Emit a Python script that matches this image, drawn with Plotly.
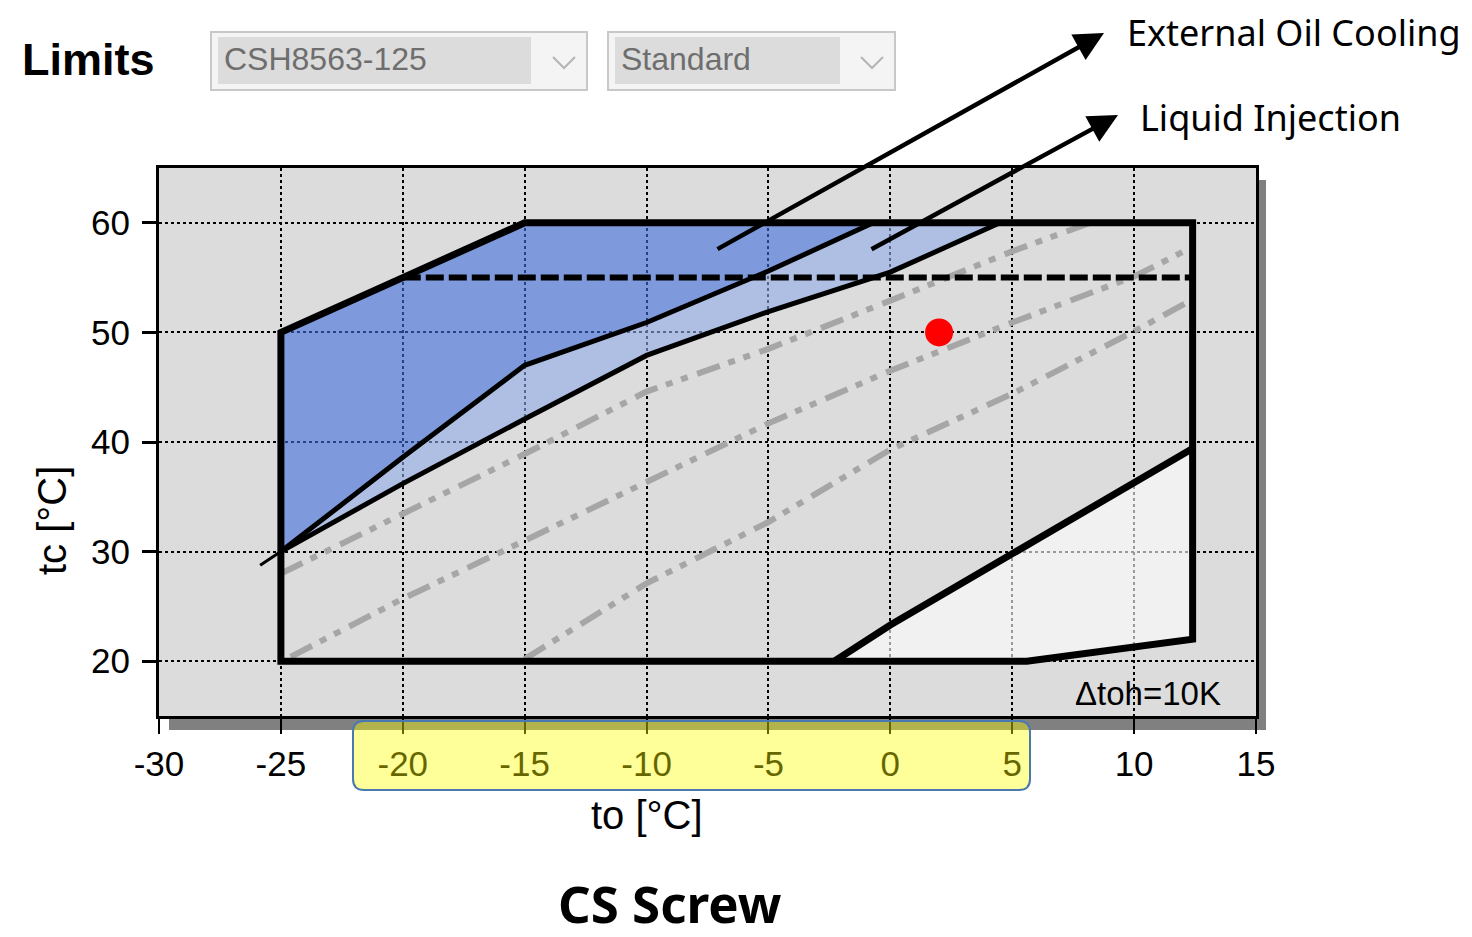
import plotly.graph_objects as go

# ---------------- data ----------------
to_tick_vals = [-30, -25, -20, -15, -10, -5, 0, 5, 10, 15]
to_tick_text = ["-30", "-25", "-20", "-15", "-10", "-5", "0", "5", "10", "15"]
tc_tick_vals = [20, 30, 40, 50, 60]
tc_tick_text = ["20", "30", "40", "50", "60"]

# outer application envelope (closed)
env_to = [-25, -25, -20, -15, 12.4, 12.4, 5.6, -25, -25]
env_tc = [20, 50, 55, 60, 60, 22.0, 20, 20, 50]

# upper edge of envelope used by the oil cooling area
oil_upper_to = [-25, -25, -20, -15, -0.7]
oil_upper_tc = [30, 50, 55, 60, 60]
# lower edge of external oil cooling area
oil_lower_to = [-25, -20, -15, -10, -5, -0.7]
oil_lower_tc = [30, 38.6, 47.0, 50.9, 55.6, 60]
# lower edge of liquid injection area
inj_lower_to = [-25, -20, -15, -10, -5, 0, 4.5]
inj_lower_tc = [30, 36.2, 42.1, 47.9, 51.9, 55.5, 60]
# short stub below the lower-left corner
stub_to = [-25.85, -25.0]
stub_tc = [28.75, 30.0]

# lower-right restricted area
low_edge_to = [-2.3, 0, 5, 10, 12.4]
low_edge_tc = [20, 23.3, 29.8, 36.3, 39.4]
low_close_to = [12.4, 5.6, -2.3]
low_close_tc = [22.0, 20, 20]

# limit line (dashed)
lim_to = [-20, 12.4]
lim_tc = [55, 55]

# grey iso lines
isoA_to = [-25, -20, -15, -10, -5, 0, 5, 8.2]
isoA_tc = [28.0, 33.4, 38.9, 44.6, 48.5, 52.9, 57.4, 60]
isoB_to = [-24.6, -20, -15, -10, -5, 0, 5, 10, 12.4]
isoB_tc = [20.4, 25.7, 31.0, 36.3, 41.7, 46.5, 50.9, 55.1, 57.8]
isoC_to = [-15, -10, -5, 0, 5, 10, 12.4]
isoC_tc = [20.2, 27.1, 32.7, 39.3, 44.4, 50.1, 53.0]

# operating point
op_to = [2]
op_tc = [50]

# ---------------- layout geometry ----------------
W, H = 1472, 937
PL, PT, PR, PB = 159, 168, 1256, 716
PW, PH = PR - PL, PB - PT


def px(x):
    return (x - PL) / PW


def py(y):
    return (PB - y) / PH


fig = go.Figure()

# fills
fig.add_trace(go.Scatter(
    x=low_edge_to + low_close_to, y=low_edge_tc + low_close_tc,
    fill="toself", fillcolor="rgba(255,255,255,0.6)",
    mode="lines", line=dict(width=0), hoverinfo="skip"))
fig.add_trace(go.Scatter(
    x=oil_upper_to + oil_lower_to[::-1], y=oil_upper_tc + oil_lower_tc[::-1],
    fill="toself", fillcolor="rgba(65,108,222,0.6)",
    mode="lines", line=dict(width=0), hoverinfo="skip"))
fig.add_trace(go.Scatter(
    x=oil_lower_to + inj_lower_to[::-1], y=oil_lower_tc + inj_lower_tc[::-1],
    fill="toself", fillcolor="rgba(143,172,232,0.6)",
    mode="lines", line=dict(width=0), hoverinfo="skip"))

# grey iso lines
for xs, ys in [(isoA_to, isoA_tc), (isoB_to, isoB_tc), (isoC_to, isoC_tc)]:
    fig.add_trace(go.Scatter(
        x=xs, y=ys, mode="lines",
        line=dict(color="#A6A6A6", width=6, dash="24px,9px,7px,9px,7px,10px"),
        hoverinfo="skip"))

# boundaries
fig.add_trace(go.Scatter(x=oil_lower_to, y=oil_lower_tc, mode="lines",
                         line=dict(color="black", width=5), hoverinfo="skip"))
fig.add_trace(go.Scatter(x=inj_lower_to, y=inj_lower_tc, mode="lines",
                         line=dict(color="black", width=5), hoverinfo="skip"))
fig.add_trace(go.Scatter(x=stub_to, y=stub_tc, mode="lines",
                         line=dict(color="black", width=3), hoverinfo="skip"))
fig.add_trace(go.Scatter(x=low_edge_to, y=low_edge_tc, mode="lines",
                         line=dict(color="black", width=7), hoverinfo="skip"))
fig.add_trace(go.Scatter(x=lim_to, y=lim_tc, mode="lines",
                         line=dict(color="black", width=6, dash="18px,5px"),
                         hoverinfo="skip"))
fig.add_trace(go.Scatter(x=env_to, y=env_tc, mode="lines",
                         line=dict(color="black", width=7), hoverinfo="skip"))
fig.add_trace(go.Scatter(x=op_to, y=op_tc, mode="markers",
                         marker=dict(color="#FF0000", size=28), hoverinfo="skip"))

tick_font = dict(family="Liberation Sans, Arial", size=35, color="black")

fig.update_xaxes(range=[-30, 15], tickvals=to_tick_vals, ticktext=to_tick_text,
                 ticks="outside", ticklen=15, tickwidth=2, tickcolor="black",
                 showgrid=True, gridcolor="black", gridwidth=2, griddash="dot",
                 showline=True, linewidth=3, linecolor="black", mirror=True,
                 zeroline=False, tickfont=tick_font, fixedrange=True)
fig.update_yaxes(range=[15, 65], tickvals=tc_tick_vals, ticktext=tc_tick_text,
                 ticks="outside", ticklen=14, tickwidth=3, tickcolor="black",
                 showgrid=True, gridcolor="black", gridwidth=2, griddash="dot",
                 showline=True, linewidth=3, linecolor="black", mirror=True,
                 zeroline=False, tickfont=tick_font, fixedrange=True,
                 ticklabelstandoff=5)

shapes = []
# drop shadow of the chart frame
shapes.append(dict(type="rect", xref="paper", yref="paper", layer="below",
                   x0=px(1256), x1=px(1266), y0=py(730), y1=py(180),
                   fillcolor="#808080", line=dict(width=0)))
shapes.append(dict(type="rect", xref="paper", yref="paper", layer="below",
                   x0=px(169), x1=px(1266), y0=py(730), y1=py(716),
                   fillcolor="#808080", line=dict(width=0)))

# drop-down boxes
for (ox0, ox1, fx1, cx) in [(211, 587, 531, 564), (608, 895, 840, 872)]:
    shapes.append(dict(type="rect", xref="paper", yref="paper",
                       x0=px(ox0), x1=px(ox1), y0=py(90), y1=py(32),
                       fillcolor="#F4F4F4", line=dict(color="#C8C8C8", width=2)))
    shapes.append(dict(type="rect", xref="paper", yref="paper",
                       x0=px(ox0 + 7), x1=px(fx1), y0=py(84), y1=py(37),
                       fillcolor="#DCDCDC", line=dict(width=0)))
    shapes.append(dict(type="path", xref="paper", yref="paper",
                       path=f"M {px(cx-11)},{py(57)} L {px(cx)},{py(68)} L {px(cx+11)},{py(57)}",
                       line=dict(color="#B4B4B4", width=2)))

# yellow highlight box (rounded)
x0, x1 = px(353), px(1030)
yt, yb = py(721), py(790)
rx, ry = 11 / PW, 11 / PH
yellow_path = (f"M {x0+rx},{yt} L {x1-rx},{yt} Q {x1},{yt} {x1},{yt-ry} "
               f"L {x1},{yb+ry} Q {x1},{yb} {x1-rx},{yb} L {x0+rx},{yb} "
               f"Q {x0},{yb} {x0},{yb+ry} L {x0},{yt-ry} Q {x0},{yt} {x0+rx},{yt} Z")
shapes.append(dict(type="path", xref="paper", yref="paper", layer="above",
                   path=yellow_path, fillcolor="rgba(255,255,0,0.4)",
                   line=dict(color="#4A78B0", width=2)))

annotations = [
    dict(text="<b>Limits</b>", x=px(20), y=py(60), xanchor="left", yanchor="middle",
         font=dict(family="Liberation Sans, Arial", size=45, color="black")),
    dict(text="CSH8563-125", x=px(222), y=py(59), xanchor="left", yanchor="middle",
         font=dict(family="Liberation Sans, Arial", size=32, color="#6E6E6E")),
    dict(text="Standard", x=px(619), y=py(59), xanchor="left", yanchor="middle",
         font=dict(family="Liberation Sans, Arial", size=32, color="#6E6E6E")),
    dict(text="External Oil Cooling", x=px(1125), y=py(33), xanchor="left", yanchor="middle",
         font=dict(family="Noto Sans", size=36, color="black")),
    dict(text="Liquid Injection", x=px(1138), y=py(117), xanchor="left", yanchor="middle",
         font=dict(family="Noto Sans", size=36, color="black")),
    dict(text="Δtoh=10K", x=px(1223), y=py(693), xanchor="right", yanchor="middle",
         font=dict(family="Liberation Sans, Arial", size=33, color="black")),
    dict(text="to [°C]", x=px(647), y=py(815), xanchor="center", yanchor="middle",
         font=dict(family="Liberation Sans, Arial", size=40, color="black")),
    dict(text="tc [°C]", x=px(52), y=py(521), xanchor="center", yanchor="middle",
         textangle=-90,
         font=dict(family="Liberation Sans, Arial", size=40, color="black")),
    dict(text="<b>CS Screw</b>", x=px(670), y=py(903), xanchor="center", yanchor="middle",
         font=dict(family="Noto Sans", size=51, color="black")),
    dict(text="", x=px(1104), y=py(33), ax=-388, ay=217, showarrow=True,
         arrowhead=2, arrowsize=1.3, arrowwidth=4.5, arrowcolor="black", standoff=0),
    dict(text="", x=px(1118), y=py(115), ax=-248, ay=135, showarrow=True,
         arrowhead=2, arrowsize=1.3, arrowwidth=4.5, arrowcolor="black", standoff=0),
]
for a in annotations:
    a.setdefault("xref", "paper")
    a.setdefault("yref", "paper")
    a.setdefault("showarrow", False)

fig.update_layout(
    width=W, height=H, autosize=False,
    margin=dict(l=PL, r=W - PR, t=PT, b=H - PB, pad=0),
    paper_bgcolor="white", plot_bgcolor="#DCDCDC",
    showlegend=False, hovermode=False,
    shapes=shapes, annotations=annotations,
)

fig.write_html("out.html", config={"displayModeBar": False},
               post_script="document.body.style.margin='0';document.body.style.overflow='hidden';")
